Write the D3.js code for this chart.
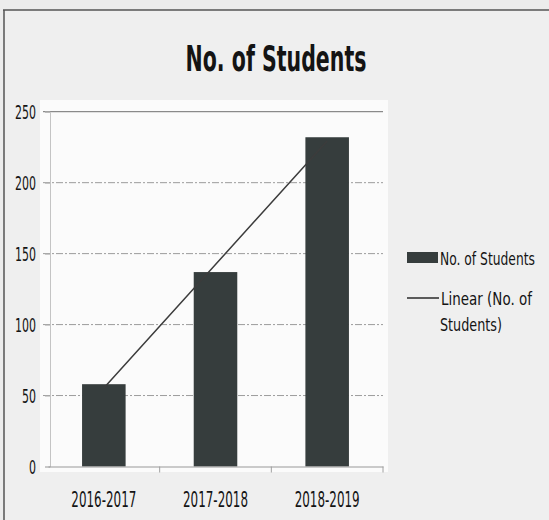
<!DOCTYPE html>
<html>
<head>
<meta charset="utf-8">
<script src="https://cdn.jsdelivr.net/npm/d3@7"></script>
<style>
html,body{margin:0;padding:0;background:#ececec;}
svg{display:block;}
text{font-family:"Liberation Sans Narrow","DejaVu Sans Condensed","Noto Sans",sans-serif;fill:#141414;}
</style>
</head>
<body>
<svg id="chart" width="549" height="520"></svg>
<script>
const title = "No. of Students";
const categories = ["2016-2017", "2017-2018", "2018-2019"];
const students = [58, 137, 232];
const yTicks = [0, 50, 100, 150, 200, 250];
const legendLabels = ["No. of Students", "Linear (No. of", "Students)"];

const svg = d3.select("#chart");
const W = 549, H = 520;

// background + frame
svg.append("rect").attr("x",0).attr("y",0).attr("width",W).attr("height",H).attr("fill","#ececec");
svg.append("rect").attr("x",4).attr("y",10).attr("width",W).attr("height",H).attr("fill","#efefef");
svg.append("rect").attr("x",40).attr("y",100).attr("width",348).attr("height",372).attr("fill","#fbfbfb");
svg.append("line").attr("x1",3).attr("x2",W).attr("y1",10).attr("y2",10).attr("stroke","#555").attr("stroke-width",1.5);
svg.append("line").attr("x1",4).attr("x2",4).attr("y1",10).attr("y2",H).attr("stroke","#555").attr("stroke-width",1.5);

const x = d3.scaleBand().domain(categories).range([48, 383]).paddingInner(0).paddingOuter(0);
const y = d3.scaleLinear().domain([0, 250]).range([466.5, 111.7]);
const barW = x.bandwidth() * 0.39;

// helper: text placed at (tx,ty) and squeezed horizontally to a target width
function fitText(parent, str, tx, ty, width, size, anchor, weight) {
  const g = parent.append("g");
  const t = g.append("text").attr("x",0).attr("y",0)
    .attr("font-size", size).attr("font-weight", weight || "normal")
    .attr("text-anchor", anchor || "start").text(str);
  const w = t.node().getComputedTextLength();
  g.attr("transform", `translate(${tx},${ty}) scale(${width / w},1)`);
  return g;
}

// title
fitText(svg, title, 276, 71, 181, 35, "middle", "bold");

// gridlines
svg.append("g").selectAll("line").data(yTicks.filter(d=>d>0)).join("line")
  .attr("x1", 43).attr("x2", 383)
  .attr("y1", d=>y(d)).attr("y2", d=>y(d))
  .attr("stroke", d=> d===250 ? "#6f6f6f" : "#9c9c9c")
  .attr("stroke-width", 1)
  .attr("stroke-dasharray", d=> d===250 ? null : "7,2,2,2");

// y axis
const yAxis = d3.axisLeft(y).tickValues(yTicks).tickSize(5).tickFormat("");
const gy = svg.append("g").attr("transform","translate(50,0)").call(yAxis);
gy.select(".domain").attr("stroke","#c4c4c4");
gy.selectAll(".tick line").attr("stroke","#b0b0b0");
yTicks.forEach(v => fitText(svg, String(v), 36, y(v) + 7, String(v).length * 7, 19, "end"));

// bars
svg.append("g").selectAll("rect").data(students).join("rect")
  .attr("x", (d,i)=> x(categories[i]) + x.bandwidth()/2 - barW/2)
  .attr("width", barW)
  .attr("y", d=>y(d))
  .attr("height", d=>y(0)-y(d))
  .attr("fill","#363d3d");

// x axis
const xAxis = d3.axisBottom(x).tickSize(0).tickFormat("");
const gx = svg.append("g").attr("transform",`translate(0,${y(0)})`).call(xAxis);
gx.select(".domain").attr("stroke","#9a9a9a").attr("stroke-width",1.2);
categories.forEach(c => fitText(svg, c, x(c) + x.bandwidth()/2, 507, 65, 21, "middle"));
// category boundary ticks
svg.append("g").selectAll("line").data(categories.slice(1).concat(["end"])).join("line")
  .attr("x1", (d,i)=> i < categories.length-1 ? x(d) : x.range()[1])
  .attr("x2", (d,i)=> i < categories.length-1 ? x(d) : x.range()[1])
  .attr("y1", y(0)).attr("y2", y(0)+6)
  .attr("stroke","#a0a0a0");

// linear trendline (least squares on the series)
const n = students.length;
const xs = d3.range(n);
const mx = d3.mean(xs), my = d3.mean(students);
const slope = d3.sum(xs, (xi,i)=>(xi-mx)*(students[i]-my)) / d3.sum(xs, xi=>(xi-mx)*(xi-mx));
const icpt = my - slope*mx;
const trend = xs.map(xi => [x(categories[xi]) + x.bandwidth()/2, y(icpt + slope*xi)]);
svg.append("path").attr("d", d3.line()(trend))
  .attr("fill","none").attr("stroke","#3c3c3c").attr("stroke-width",1.5);

// legend
svg.append("rect").attr("x",407).attr("y",252).attr("width",31).attr("height",11).attr("fill","#363d3d");
fitText(svg, legendLabels[0], 440, 265, 95, 18.5, "start");
svg.append("line").attr("x1",407).attr("x2",439).attr("y1",298).attr("y2",298)
  .attr("stroke","#2a2a2a").attr("stroke-width",1.5);
fitText(svg, legendLabels[1], 441, 305, 91, 18.5, "start");
fitText(svg, legendLabels[2], 440, 331, 62, 18.5, "start");
</script>
</body>
</html>
